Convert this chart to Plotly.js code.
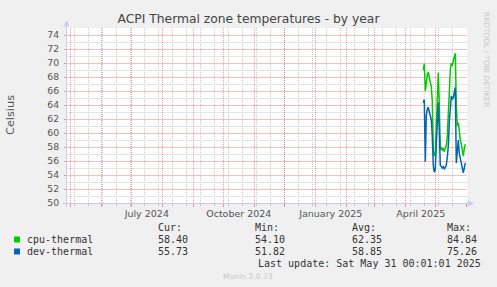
<!DOCTYPE html>
<html>
<head>
<meta charset="utf-8">
<script src="https://cdn.plot.ly/plotly-3.0.1.min.js"></script>
<style>
html,body{margin:0;padding:0;background:#F0F0F0;}
#chart{width:497px;height:287px;}
</style>
</head>
<body>
<div id="chart"></div>
<script>
// ---- data ----
const dates = [
  '2025-04-19','2025-04-20','2025-04-21','2025-04-22','2025-04-23','2025-04-24','2025-04-25',
  '2025-04-26','2025-04-27','2025-04-28','2025-04-29','2025-04-30','2025-05-01','2025-05-02',
  '2025-05-03','2025-05-04','2025-05-05','2025-05-06','2025-05-07','2025-05-08','2025-05-09',
  '2025-05-10','2025-05-11','2025-05-12','2025-05-13','2025-05-14','2025-05-15','2025-05-16',
  '2025-05-17','2025-05-18','2025-05-19','2025-05-20','2025-05-21','2025-05-22','2025-05-23',
  '2025-05-24','2025-05-25','2025-05-26','2025-05-27','2025-05-28','2025-05-29','2025-05-30',
  '2025-05-31'
];
const cpuThermal = [
  69.0, 69.9, 66.0, 67.5, 68.3, 68.7, 67.8,
  67.2, 66.7, 64.5, 57.5, 56.7, 57.2, 62.0,
  67.0, 68.6, 64.0, 57.6, 58.0, 57.5, 57.8,
  57.3, 57.9, 58.2, 59.5, 63.5, 67.0, 69.0,
  70.0, 69.6, 70.3, 71.0, 71.4, 64.0, 61.0,
  61.5, 59.8, 59.0, 58.4, 57.3, 56.7, 57.8,
  58.4
];
const devThermal = [
  64.3, 64.8, 55.9, 62.5, 63.4, 63.7, 63.0,
  62.4, 61.9, 59.5, 55.3, 54.4, 54.8, 58.5,
  62.8, 64.3, 60.5, 55.4, 55.2, 55.0, 55.2,
  54.9, 55.1, 55.4, 56.5, 58.1, 61.5, 62.9,
  65.3, 64.8, 65.0, 65.8, 66.5, 55.7, 58.0,
  59.0, 57.1, 56.3, 55.7, 54.8, 54.3, 55.0,
  55.73
];
const seriesNames = ['cpu-thermal', 'dev-thermal'];
const curVals = ['58.40', '55.73'];
const minVals = ['54.10', '51.82'];
const avgVals = ['62.35', '58.85'];
const maxVals = ['84.84', '75.26'];
const statHeaders = ['Cur:', 'Min:', 'Avg:', 'Max:'];
const xTickVals = ['2024-07-16 12:00', '2024-10-16 12:00', '2025-01-16 12:00', '2025-04-16 12:00'];
const xTickText = ['July 2024', 'October 2024', 'January 2025', 'April 2025'];

// ---- style / layout helpers ----
const colors = ['#00CC00', '#0066B3'];
const W = 497, H = 287, L = 67, R = 30, T = 28, B = 84;
const PW = W - L - R, PH = H - T - B;
const px = x => (x - L) / PW;
const py = y => (H - B - y) / PH;
const xRange = ['2024-04-27 16:48', '2025-06-01 16:48'];
const yRange = [50, 75];
const redGridV = 'rgba(232,0,0,0.38)';
const grayGridV = 'rgba(143,143,143,0.45)';
const redGridH = '#F6C0C0';
const grayGridH = '#E4E4E4';
const axisBlue = '#C8CCF4';
const mono = 'DejaVu Sans Mono';
const sans = 'DejaVu Sans';

// two-week minor grid positions (rrdtool-like minor grid)
const minorGrid = [];
for (let t = Date.UTC(2024, 4, 5); t < Date.UTC(2025, 5, 2); t += 14 * 86400000) {
  minorGrid.push(new Date(t).toISOString().slice(0, 10));
}

const traces = [
  {x: dates, y: cpuThermal, name: seriesNames[0], type: 'scatter', mode: 'lines',
   line: {color: colors[0], width: 1.5}, xaxis: 'x', yaxis: 'y'},
  {x: dates, y: devThermal, name: seriesNames[1], type: 'scatter', mode: 'lines',
   line: {color: colors[1], width: 1.5}, xaxis: 'x2', yaxis: 'y'}
];

const annotations = [];
function txt(text, x, y, opts) {
  annotations.push(Object.assign({
    text: text, xref: 'paper', yref: 'paper', x: px(x), y: py(y),
    showarrow: false, xanchor: 'left', yanchor: 'middle',
    font: {family: mono, size: 10, color: '#333'}
  }, opts || {}));
}
// y-axis title
txt('Celsius', 10, 115, {xanchor: 'center', textangle: -90, font: {family: sans, size: 11.3, color: '#555'}});
// rrdtool watermark
txt('RRDTOOL / TOBI OETIKER', 487, 59, {xanchor: 'center', textangle: 90, font: {family: sans, size: 7.4, color: '#C8C8C8'}});
// legend
const colX = [158, 255, 351.5, 446.7];
statHeaders.forEach((h, i) => txt(h, colX[i] - 2, 227.5));
const rowsY = [239.5, 251.5];
seriesNames.forEach((n, r) => {
  txt(n, 24.5, rowsY[r]);
  [curVals, minVals, avgVals, maxVals].forEach((arr, i) => txt(arr[r], colX[i] - 2, rowsY[r]));
});
txt('Last update: Sat May 31 00:01:01 2025', 483, 263.5, {xanchor: 'right'});
txt('Munin 2.0.73', 248, 276, {xanchor: 'center', font: {family: sans, size: 7.6, color: '#C8C8C8'}});

const shapes = [
  // legend swatches
  {type: 'rect', xref: 'paper', yref: 'paper', x0: px(14), x1: px(20), y0: py(236.5), y1: py(242.5),
   fillcolor: colors[0], line: {width: 0}},
  {type: 'rect', xref: 'paper', yref: 'paper', x0: px(14), x1: px(20), y0: py(248.5), y1: py(254.5),
   fillcolor: colors[1], line: {width: 0}},
  // axes with arrows
  {type: 'line', xref: 'paper', yref: 'paper', x0: px(66.5), x1: px(66.5), y0: py(207), y1: py(24),
   line: {color: axisBlue, width: 1}, layer: 'above'},
  {type: 'path', xref: 'paper', yref: 'paper',
   path: `M ${px(63.5)} ${py(26.5)} L ${px(69.5)} ${py(26.5)} L ${px(66.5)} ${py(20.5)} Z`,
   fillcolor: axisBlue, line: {width: 0}, layer: 'above'},
  {type: 'line', xref: 'paper', yref: 'paper', x0: px(62.5), x1: px(469), y0: py(203.5), y1: py(203.5),
   line: {color: axisBlue, width: 1}, layer: 'above'},
  {type: 'path', xref: 'paper', yref: 'paper',
   path: `M ${px(468)} ${py(200.5)} L ${px(468)} ${py(206.5)} L ${px(474)} ${py(203.5)} Z`,
   fillcolor: axisBlue, line: {width: 0}, layer: 'above'}
];

const layout = {
  width: W, height: H,
  margin: {l: L, r: R, t: T, b: B, pad: 0},
  paper_bgcolor: '#F0F0F0', plot_bgcolor: '#FFFFFF',
  showlegend: false,
  title: {text: 'ACPI Thermal zone temperatures - by year', x: 248.5 / W, xanchor: 'center',
          y: 1 - 19 / H, yanchor: 'middle', yref: 'container',
          font: {family: sans, size: 12.3, color: '#444'}},
  xaxis: {type: 'date', range: xRange, showticklabels: false,
          dtick: 'M1', tick0: '2024-05-01', showgrid: true, gridcolor: redGridV, griddash: '1px,1px', gridwidth: 1,
          ticks: 'outside', ticklen: 3, tickcolor: redGridV,
          minor: {tickmode: 'array', tickvals: minorGrid, showgrid: true, gridcolor: grayGridV,
                  griddash: '1px,1px', ticks: 'outside', ticklen: 2, tickcolor: grayGridV},
          zeroline: false, showline: false, fixedrange: true},
  xaxis2: {type: 'date', range: xRange, overlaying: 'x', anchor: 'y', side: 'bottom',
           tickmode: 'array', tickvals: xTickVals, ticktext: xTickText,
           showgrid: false, zeroline: false, showline: false, ticks: '',
           ticklabelstandoff: 3,
           tickfont: {family: sans, size: 9.5, color: '#555'}},
  yaxis: {range: yRange, tickmode: 'linear', dtick: 2, tick0: 50, showgrid: true,
          gridcolor: redGridH, gridwidth: 1,
          ticks: 'outside', ticklen: 2, tickcolor: redGridV, ticklabelstandoff: 3,
          minor: {tickmode: 'linear', dtick: 1, tick0: 50, showgrid: true, gridcolor: grayGridH, gridwidth: 1},
          tickfont: {family: sans, size: 9.3, color: '#555'},
          zeroline: false, showline: false, fixedrange: true},
  annotations: annotations,
  shapes: shapes
};

Plotly.newPlot('chart', traces, layout, {displayModeBar: false, staticPlot: true});
</script>
</body>
</html>
